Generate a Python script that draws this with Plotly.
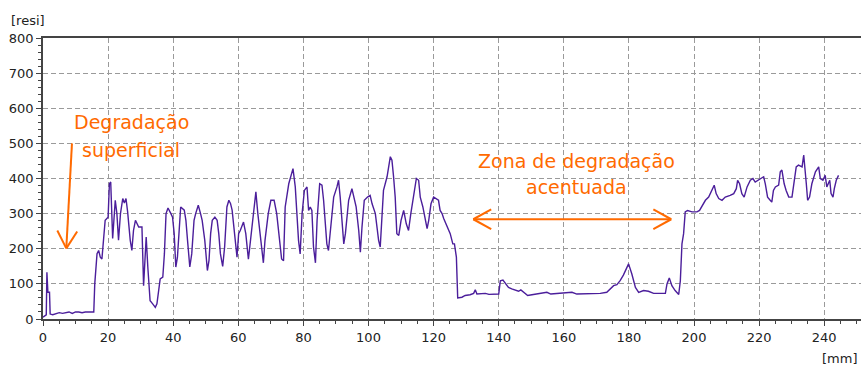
import plotly.graph_objects as go

# depth along the drill path (mm)
pos_mm = [0, 0.5, 1.0, 1.2, 1.5, 2.0, 2.2, 3, 4, 5, 6, 7, 8, 9, 10, 11, 12, 13, 14, 15, 15.6,
          15.9, 16.6, 17.1, 17.6, 18.1, 18.6, 19.1, 20.0, 20.4, 20.8, 21.4, 22.2, 22.7, 23.2, 23.8, 24.5,
          25.0, 25.5, 26.0, 26.8, 27.3, 27.8, 28.4, 29.4, 30.4, 30.9, 31.3, 31.7, 32.2, 32.9, 33.7,
          34.5, 35.0, 35.5, 36.0, 36.8, 37.3, 37.8, 38.4, 39.3, 39.8, 40.3, 40.8, 41.3, 41.8, 42.3,
          43.4, 43.9, 44.4, 45.1, 45.7, 46.4, 46.9, 47.7, 48.4, 48.9, 49.7, 50.5, 51.0, 51.5, 52.0,
          52.8, 53.5, 54.0, 54.5, 55.2, 55.8, 56.5, 57.1, 57.6, 58.1, 58.9, 59.6, 60.1, 60.6, 61.6,
          62.3, 63.1, 63.7, 64.7, 65.4, 66.0, 66.7, 67.7, 68.2, 69.2, 70.0, 71.0, 71.8, 72.8, 73.3,
          73.9, 74.4, 75.5, 76.8, 77.5, 78.0, 78.5, 79.0, 79.6, 80.3, 81.1, 81.6, 82.1, 82.6, 83.1,
          83.7, 84.2, 85.0, 85.7, 86.2, 86.7, 87.2, 87.7, 88.5, 89.3, 90.3, 90.8, 91.3, 91.8, 92.4,
          92.9, 93.9, 94.9, 95.4, 96.2, 97.0, 97.5, 98.0, 98.7, 99.7, 100.5, 101.1, 102.1, 103.1,
          103.6, 104.6, 105.7, 106.7, 107.2, 107.7, 108.2, 108.7, 109.3, 110.0, 110.8, 111.6, 112.3,
          113.0, 113.9, 114.7, 115.4, 115.9, 116.7, 117.4, 118.0, 118.5, 119.2, 120.0, 120.8, 121.5,
          122.0, 122.6, 123.1, 124.1, 125.1, 125.9, 126.4, 127.0, 127.4, 128.7, 129.7, 131.2, 132.3,
          132.8, 133.3, 135.9, 137.0, 140.0, 140.5, 141.3, 142.0, 143.0, 144.0, 145.1, 146.1, 146.8,
          147.6, 148.9, 150.2, 151.7, 153.3, 154.8, 156.0, 158.0, 159.9, 162.5, 164.0, 166.1, 169.1,
          171.2, 173.2, 174.3, 175.3, 176.3, 177.3, 178.3, 178.9, 179.9, 180.9, 182.0, 183.0, 184.5,
          186.0, 187.6, 189.6, 191.2, 191.7, 192.4, 193.2, 194.2, 195.3, 195.8, 196.3, 196.8, 197.3,
          198.0, 199.4, 200.9, 201.7, 202.4, 203.5, 204.5, 205.5, 206.2, 206.8, 207.6, 208.6, 209.6,
          211.1, 212.2, 213.0, 213.4, 214.0, 214.7, 215.4, 216.3, 217.3, 218.1, 218.8, 219.8, 220.6,
          221.4, 221.9, 222.6, 223.4, 223.9, 224.4, 225.0, 226.0, 226.5, 227.0, 227.7, 228.3, 229.1,
          230.1, 230.6, 231.4, 232.1, 233.2, 233.7, 234.2, 234.5, 234.9, 235.5, 236.2, 237.3, 238.3,
          238.8, 239.6, 240.3, 240.8, 241.7, 242.1, 242.7, 243.1, 243.7, 244.4]

# drilling resistance (resi)
resistance = [5, 10, 12, 133, 76, 76, 14, 12, 15, 18, 16, 18, 20, 16, 20, 20, 18, 20, 20, 18, 20,
              100, 186, 195, 176, 171, 219, 281, 290, 385, 390, 229, 338, 300, 224, 300, 343,
              330, 343, 305, 224, 195, 252, 281, 262, 262, 95, 176, 233, 148, 52, 43,
              33, 43, 81, 114, 119, 186, 300, 316, 300, 290, 243, 148, 176, 252, 319,
              310, 281, 224, 148, 186, 281, 300, 324, 300, 281, 224, 138, 167, 243, 281,
              290, 281, 243, 186, 150, 205, 319, 338, 329, 310, 243, 176, 243, 252, 276,
              243, 170, 224, 319, 362, 300, 243, 160, 224, 300, 338, 338, 300, 214, 171,
              166, 319, 385, 428, 376, 300, 224, 185, 300, 366, 376, 309, 319, 309, 205,
              160, 281, 385, 381, 338, 281, 214, 195, 281, 347, 376, 395, 347, 281, 214,
              243, 338, 371, 347, 319, 252, 190, 262, 338, 347, 352, 328, 300, 224,
              205, 366, 405, 462, 452, 405, 347, 243, 238, 281, 309, 271, 252,
              300, 357, 400, 395, 347, 319, 281, 257, 281, 328, 347, 343, 338,
              309, 300, 286, 266, 243, 214, 214, 176, 60, 62, 67, 69, 73,
              83, 71, 73, 70, 71, 109, 111, 102, 90, 86, 83, 79, 83,
              76, 67, 69, 71, 73, 76, 71, 73, 74, 76, 71, 71, 73,
              73, 76, 86, 95, 98, 109, 125, 138, 157, 128, 90, 76, 81,
              79, 73, 73, 73, 100, 117, 95, 81, 70, 109, 214, 243, 305,
              309, 305, 305, 309, 319, 338, 347, 366, 381, 357, 343, 338, 347,
              352, 357, 371, 395, 385, 357, 347, 376, 395, 400, 390, 395, 400,
              405, 385, 347, 338, 333, 366, 376, 381, 419, 424, 385, 366, 347,
              347, 385, 433, 438, 433, 467, 424, 385, 338, 347, 385, 419, 433,
              400, 395, 409, 376, 395, 357, 347, 371, 395, 409]

x_ticks = [0, 20, 40, 60, 80, 100, 120, 140, 160, 180, 200, 220, 240]
y_ticks = [0, 100, 200, 300, 400, 500, 600, 700, 800]

ORANGE = "#FF6A00"
AXIS = "#444444"
GRID = "#9a9a9a"
FONT = "DejaVu Sans"

fig = go.Figure()
fig.add_trace(go.Scatter(x=pos_mm, y=resistance, mode="lines",
                         line=dict(color="#4B1E9B", width=1.4), hoverinfo="skip"))

fig.update_layout(
    width=861, height=369,
    margin=dict(l=43, r=0, t=38, b=50),
    plot_bgcolor="white", paper_bgcolor="white",
    showlegend=False,
    font=dict(family=FONT, size=13, color="#222222"),
)
fig.update_xaxes(
    range=[0, 251.3], tickvals=x_ticks, ticktext=[str(v) for v in x_ticks],
    showgrid=True, gridcolor=GRID, gridwidth=1, griddash="5px,3px",
    zeroline=False, showline=True, linecolor=AXIS, linewidth=2, mirror=True,
    ticks="outside", ticklen=5, tickcolor=AXIS, tickwidth=1,
    minor=dict(dtick=5, ticks="outside", ticklen=3, tickcolor=AXIS, showgrid=False),
    tickfont=dict(family=FONT, size=13, color="#222222"),
)
fig.update_yaxes(
    range=[0, 800], tickvals=y_ticks, ticktext=[str(v) for v in y_ticks],
    showgrid=True, gridcolor=GRID, gridwidth=1, griddash="5px,3px",
    zeroline=False, showline=True, linecolor=AXIS, linewidth=1.5,
    ticks="outside", ticklen=5, tickcolor=AXIS, tickwidth=1,
    minor=dict(dtick=20, ticks="outside", ticklen=3, tickcolor=AXIS, showgrid=False),
    tickfont=dict(family=FONT, size=13, color="#222222"),
)

# axis unit labels
fig.add_annotation(text="[resi]", xref="paper", yref="paper", x=-0.0416, y=1.064,
                   xanchor="left", yanchor="middle", showarrow=False,
                   font=dict(family=FONT, size=13, color="#222222"))
fig.add_annotation(text="[mm]", xref="paper", yref="paper", x=0.998, y=-0.142,
                   xanchor="right", yanchor="middle", showarrow=False,
                   font=dict(family=FONT, size=13, color="#222222"))

# orange annotation texts
for txt, xx, yy in [("Degradação", 27.1, 561), ("superficial", 27.1, 481),
                    ("Zona de degradação", 164.0, 449), ("acentuada", 163.8, 375)]:
    fig.add_annotation(text=txt, x=xx, y=yy, xref="x", yref="y", showarrow=False,
                       xanchor="center", yanchor="middle",
                       font=dict(family=FONT, size=19, color=ORANGE))

# arrows drawn as plain line segments (open V heads)
segments = [
    ((8.9, 500), (7.16, 201)), ((4.4, 252), (7.16, 201)), ((10.5, 249), (7.16, 201)),
    ((132.2, 284), (193.0, 284)),
    ((137.7, 312), (132.2, 284)), ((137.7, 256), (132.2, 284)),
    ((187.5, 312), (193.0, 284)), ((187.5, 256), (193.0, 284)),
]
for (x0, y0), (x1, y1) in segments:
    fig.add_shape(type="line", x0=x0, y0=y0, x1=x1, y1=y1, xref="x", yref="y",
                  line=dict(color=ORANGE, width=2))

fig.write_html("out.html")
